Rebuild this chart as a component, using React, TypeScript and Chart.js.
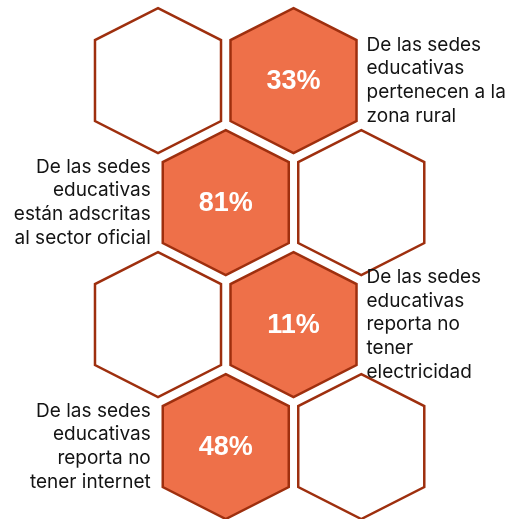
import { useEffect, useRef } from "react";
import { Chart, registerables } from "chart.js";

Chart.register(...registerables);

// ---- data ----
const rows = [0, 1, 2, 3];
const statValues = [33, 81, 11, 48];
const statColumns = [1, 0.5, 1, 0.5];
const blankColumns = [0, 1.5, 0, 1.5];
const labelSides = ["right", "left", "right", "left"];
const statLabels = [
  ["De las sedes", "educativas", "pertenecen a la", "zona rural"],
  ["De las sedes", "educativas", "están adscritas", "al sector oficial"],
  ["De las sedes", "educativas", "reporta no", "tener", "electricidad"],
  ["De las sedes", "educativas", "reporta no", "tener internet"],
];

// ---- geometry (data units) ----
const HALF_W = 0.465;
const HALF_H = 0.594;
const SIDE_H = 0.332;

const FILL_ORANGE = "#EE7049";
const STROKE = "#9E2F0E";

const hexPlugin = {
  id: "hexDraw",
  afterDatasetsDraw(chart: any) {
    const ctx = chart.ctx as CanvasRenderingContext2D;
    const xs = chart.scales.x;
    const ys = chart.scales.y;
    chart.data.datasets.forEach((ds: any, di: number) => {
      const meta = chart.getDatasetMeta(di);
      meta.data.forEach((pt: any, i: number) => {
        const raw = ds.data[i];
        const cx = pt.x;
        const cy = pt.y;
        const hw = Math.abs(xs.getPixelForValue(raw.x + HALF_W) - cx);
        const hh = Math.abs(ys.getPixelForValue(raw.y + HALF_H) - cy);
        const sh = Math.abs(ys.getPixelForValue(raw.y + SIDE_H) - cy);
        ctx.save();
        ctx.beginPath();
        ctx.moveTo(cx, cy - hh);
        ctx.lineTo(cx + hw, cy - sh);
        ctx.lineTo(cx + hw, cy + sh);
        ctx.lineTo(cx, cy + hh);
        ctx.lineTo(cx - hw, cy + sh);
        ctx.lineTo(cx - hw, cy - sh);
        ctx.closePath();
        ctx.fillStyle = ds.hexFill;
        ctx.fill();
        ctx.lineWidth = 2.5;
        ctx.lineJoin = "miter";
        ctx.strokeStyle = STROKE;
        ctx.stroke();

        if (ds.isStat) {
          ctx.fillStyle = "#FFFFFF";
          ctx.font = "bold 27px 'Liberation Sans', Arial, sans-serif";
          ctx.textAlign = "center";
          ctx.textBaseline = "middle";
          ctx.fillText(raw.value + "%", cx, cy + 1);

          const lines: string[] = raw.label;
          const side = raw.side;
          const lh = 23.7;
          ctx.fillStyle = "#141414";
          ctx.font = "19px Inter, 'Liberation Sans', sans-serif";
          ctx.textAlign = side === "right" ? "left" : "right";
          const tx = side === "right" ? cx + hw + 10 : cx - hw - 12;
          const startY = cy - ((lines.length - 1) * lh) / 2;
          lines.forEach((ln, k) => {
            ctx.fillText(ln, tx, startY + k * lh);
          });
        }
        ctx.restore();
      });
    });
  },
};

export default function App() {
  const ref = useRef<HTMLCanvasElement | null>(null);

  useEffect(() => {
    if (!ref.current) return;
    const statData = rows.map((r, i) => ({
      x: statColumns[i],
      y: r,
      value: statValues[i],
      label: statLabels[i],
      side: labelSides[i],
    }));
    const blankData = rows.map((r, i) => ({ x: blankColumns[i], y: r }));
    const chart = new Chart(ref.current, {
      type: "scatter",
      data: {
        datasets: [
          { data: blankData, pointRadius: 0, hexFill: "#FFFFFF", isStat: false } as any,
          { data: statData, pointRadius: 0, hexFill: FILL_ORANGE, isStat: true } as any,
        ],
      },
      options: {
        animation: false,
        responsive: false,
        events: [],
        layout: { padding: 0 },
        plugins: { legend: { display: false }, tooltip: { enabled: false } },
        scales: {
          x: { type: "linear", display: false, min: -1.166, max: 2.605 },
          y: { type: "linear", display: false, reverse: true, min: -0.66, max: 3.594 },
        },
      },
      plugins: [hexPlugin],
    });
    return () => chart.destroy();
  }, []);

  return (
    <div style={{ position: "absolute", left: 0, top: 0, width: 511, height: 519, background: "#fff" }}>
      <canvas ref={ref} width={511} height={519} style={{ display: "block" }} />
    </div>
  );
}
